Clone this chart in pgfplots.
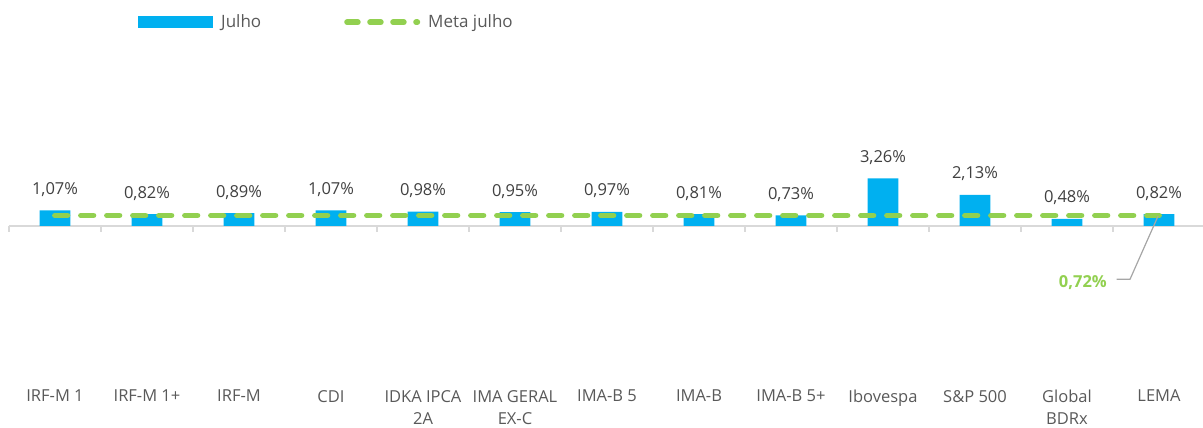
\documentclass[border=0pt]{standalone}
\usepackage{fontspec}
\setmainfont{Open Sans}
\usepackage{pgfplots}
\pgfplotsset{compat=1.18}
\definecolor{barblue}{HTML}{00B0F0}
\definecolor{metagreen}{HTML}{92D050}
\definecolor{txtgrey}{HTML}{595959}
\definecolor{lblgrey}{HTML}{404040}
\definecolor{axgrey}{HTML}{D9D9D9}
\definecolor{leadgrey}{HTML}{A6A6A6}
\begin{document}
\begin{tikzpicture}
\useasboundingbox (0,0) rectangle (1203pt,428pt);
\begin{axis}[
  x=92pt, y=14.6pt,
  anchor=origin, at={(55pt,202pt)},
  xmin=-0.5, xmax=12.5, ymin=-11.0, ymax=15,
  axis line style={draw=none},
  tick style={draw=none},
  ytick=\empty,
  xtick={0,...,12},
  xticklabels={IRF-M 1, IRF-M 1+, IRF-M, CDI, {IDKA IPCA\\2A}, {IMA GERAL\\EX-C}, IMA-B 5, IMA-B, IMA-B 5+, Ibovespa, S\&P 500, {Global\\BDRx}, LEMA},
  xticklabel style={align=center, font=\fontsize{16.5}{22.3}\selectfont, text=txtgrey},
  /pgf/number format/assume math mode=true,
  clip=false,
  legend columns=2,
  legend style={draw=none, fill=none, inner sep=0pt, at={(0.1079,0.96)}, anchor=west,
    font=\fontsize{17}{20}\selectfont, text=txtgrey,
    /tikz/every odd column/.append style={column sep=6pt},
    /tikz/every even column/.append style={column sep=81pt}},
]
\draw[axgrey, line width=1.5pt] (axis cs:-0.5,0) -- (axis cs:12.5,0);
\draw[axgrey, line width=1.5pt]
  (axis cs:-0.5,0) -- (axis cs:-0.5,-0.42)
  (axis cs:0.5,0) -- (axis cs:0.5,-0.42)
  (axis cs:1.5,0) -- (axis cs:1.5,-0.42)
  (axis cs:2.5,0) -- (axis cs:2.5,-0.42)
  (axis cs:3.5,0) -- (axis cs:3.5,-0.42)
  (axis cs:4.5,0) -- (axis cs:4.5,-0.42)
  (axis cs:5.5,0) -- (axis cs:5.5,-0.42)
  (axis cs:6.5,0) -- (axis cs:6.5,-0.42)
  (axis cs:7.5,0) -- (axis cs:7.5,-0.42)
  (axis cs:8.5,0) -- (axis cs:8.5,-0.42)
  (axis cs:9.5,0) -- (axis cs:9.5,-0.42)
  (axis cs:10.5,0) -- (axis cs:10.5,-0.42)
  (axis cs:11.5,0) -- (axis cs:11.5,-0.42)
  (axis cs:12.5,0) -- (axis cs:12.5,-0.42);
\addplot[ybar, bar width=30.7pt, fill=barblue, draw=none,
  nodes near coords={\pgfmathprintnumber[fixed,fixed zerofill,precision=2,use comma]{\pgfplotspointmeta}\%},
  every node near coord/.append style={anchor=base, yshift=16pt, font=\fontsize{16.5}{20}\selectfont, text=lblgrey},
  legend image code/.code={\fill[barblue] (0pt,-6pt) rectangle (75pt,6pt);}]
  coordinates {(0,1.07) (1,0.82) (2,0.89) (3,1.07) (4,0.98) (5,0.95) (6,0.97) (7,0.81) (8,0.73) (9,3.26) (10,2.13) (11,0.48) (12,0.82)};
\addplot[metagreen, line width=5.9pt, line cap=round, dash pattern=on 12.4pt off 13.6pt,
  legend image code/.code={\draw[metagreen, line width=5.7pt, line cap=round, dash pattern=on 10.8pt off 12.2pt] (2.85pt,0pt) -- (73.15pt,0pt);}]
  coordinates {(0,0.72) (12,0.72)};
\legend{Julho, Meta julho}
\node[anchor=base east, inner sep=0pt, text=metagreen, font=\bfseries\fontsize{16.5}{20}\selectfont] at (axis cs:11.435,-4.18) {0,72\%};
\draw[leadgrey, line width=1.2pt] (axis cs:11.54,-3.65) -- (axis cs:11.685,-3.65) -- (axis cs:11.99,0.685);
\end{axis}
\end{tikzpicture}
\end{document}
